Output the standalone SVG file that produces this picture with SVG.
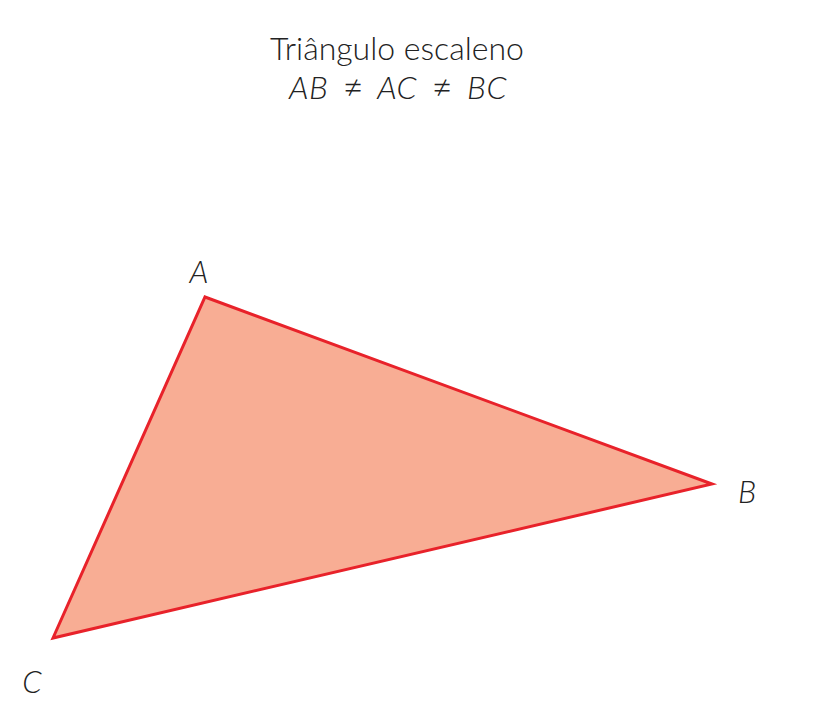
<svg xmlns="http://www.w3.org/2000/svg" width="820" height="720" viewBox="0 0 820 720">
<style>
.t{font-family:Lato,"Open Sans","Liberation Sans",sans-serif;font-weight:300;fill:#222;font-size:32px}
.i{font-style:italic;word-spacing:7px;letter-spacing:0.5px}
.ne{font-family:"Open Sans","Noto Sans",sans-serif;font-style:normal;font-weight:300}
.lbl{font-family:Lato,"Open Sans","Liberation Sans",sans-serif;font-weight:300;font-style:italic;fill:#222;font-size:31px}
.tri{fill:#f8ad94;stroke:#e8222a;stroke-width:3;stroke-linejoin:miter}
</style>
<rect width="820" height="720" fill="#fff"/>
<g id="title">
<text class="t" x="397" y="60" text-anchor="middle">Triângulo escaleno</text>
<text class="t i" x="398" y="99" text-anchor="middle">AB <tspan class="ne">≠</tspan> AC <tspan class="ne">≠</tspan> BC</text>
</g>
<g id="triangle">
<polygon class="tri" points="205,297 712,484 53,638"/>
</g>
<g id="labels">
<text id="A" class="lbl" x="199" y="283" text-anchor="middle">A</text>
<text id="B" class="lbl" x="747" y="503" text-anchor="middle">B</text>
<text id="C" class="lbl" x="32" y="693" text-anchor="middle">C</text>
</g>
</svg>
